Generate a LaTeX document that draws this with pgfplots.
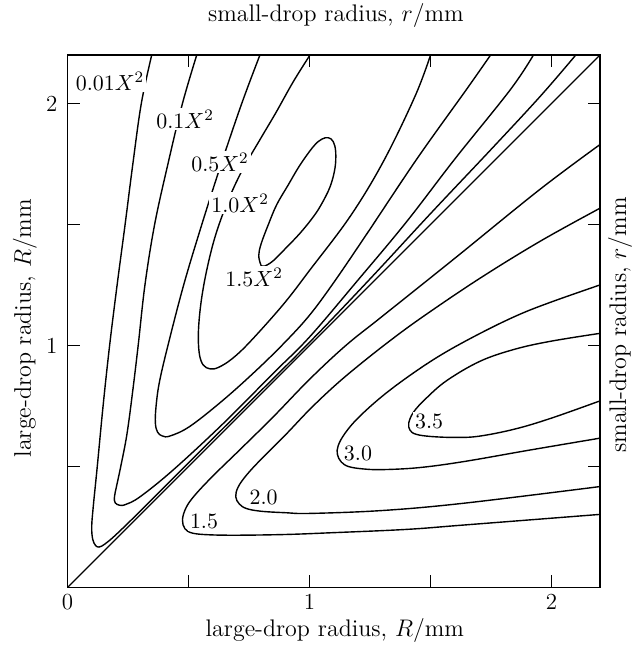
\documentclass[border=0pt]{standalone}
\usepackage{pgfplots}
\pgfplotsset{compat=1.18}
\pgfplotsset{contour/.style={black, solid, line width=0.7pt, smooth, tension=0.6, no markers}}
\begin{document}
\begin{tikzpicture}
\begin{axis}[
  name=ax,
  scale only axis, width=266.25pt, height=266.25pt,
  xmin=0, xmax=2.2, ymin=0, ymax=2.2,
  xtick={0,0.5,1,1.5,2}, xticklabels={0,,1,,2},
  ytick={0.5,1,1.5,2}, yticklabels={,1,,2},
  tick align=inside, major tick length=6pt,
  axis line style={line width=0.65pt},
  every tick/.style={black, line width=0.65pt},
  tick label style={font=\fontsize{11.5}{13}\selectfont},
  yticklabel style={xshift=-1.5pt},
  label style={font=\fontsize{12}{14}\selectfont},
  xlabel={large-drop radius, $R$/mm},
  ylabel={large-drop radius, $R$/mm},
  xlabel style={at={(axis description cs:0.502,-0.08)}, anchor=center},
  ylabel style={at={(axis description cs:-0.08,0.487)}, anchor=center},
  clip mode=individual,
]
% diagonal R = r
\addplot[black, line width=0.7pt] coordinates {(0,0) (2.2,2.2)};

% upper-left family (multiples of X^2)
\addplot[contour] coordinates {(0.348,2.2) (0.305,2.0) (0.27,1.75) (0.238,1.5) (0.205,1.25)
  (0.174,1.0) (0.147,0.75) (0.123,0.5) (0.106,0.33) (0.100,0.25) (0.104,0.2) (0.115,0.175)
  (0.13,0.167) (0.155,0.18) (0.2,0.218) (0.3,0.315) (0.5,0.515) (0.75,0.764) (1.0,1.013)
  (1.25,1.275) (1.5,1.545) (1.75,1.81) (1.952,2.028) (2.10,2.2)};
\addplot[contour] coordinates {(0.534,2.2) (0.475,2.0) (0.415,1.75) (0.36,1.5) (0.32,1.25)
  (0.292,1.0) (0.268,0.8) (0.245,0.63) (0.22,0.5) (0.203,0.42) (0.194,0.375) (0.197,0.35)
  (0.215,0.34) (0.24,0.343) (0.30,0.375) (0.437,0.486) (0.644,0.678) (0.85,0.885)
  (1.0,1.035) (1.2,1.27) (1.4,1.51) (1.6,1.77) (1.829,2.056) (1.925,2.2)};
\addplot[contour] coordinates {(0.795,2.2) (0.72,2.0) (0.635,1.75) (0.555,1.5) (0.48,1.25)
  (0.415,1.0) (0.38,0.85) (0.366,0.75) (0.363,0.68) (0.372,0.642) (0.392,0.626)
  (0.424,0.626) (0.506,0.666) (0.644,0.775) (0.782,0.899) (0.9,1.015) (1.0,1.125)
  (1.1,1.26) (1.236,1.46) (1.443,1.77) (1.65,2.06) (1.748,2.2)};
\addplot[contour] coordinates {(1.002,2.2) (0.933,2.09) (0.86,1.96) (0.795,1.85) (0.72,1.72)
  (0.66,1.59) (0.61,1.45) (0.575,1.31) (0.552,1.18) (0.541,1.06) (0.544,0.97) (0.56,0.92)
  (0.59,0.903) (0.625,0.91) (0.68,0.945) (0.754,1.015) (0.892,1.17) (1.0,1.31)
  (1.167,1.532) (1.305,1.76) (1.436,2.03) (1.5,2.2)};
\addplot[contour] coordinates {(0.80,1.33) (0.79,1.37) (0.80,1.42) (0.83,1.50) (0.864,1.581)
  (0.91,1.66) (0.961,1.746) (1.016,1.822) (1.05,1.852) (1.078,1.858) (1.098,1.842)
  (1.108,1.80) (1.105,1.732) (1.085,1.656) (1.05,1.585) (1.016,1.532) (0.961,1.464)
  (0.90,1.40) (0.85,1.35) (0.815,1.328) (0.80,1.33)};

% lower-right family
\addplot[contour] coordinates {(2.2,1.83) (1.952,1.645) (1.6,1.36) (1.3,1.12) (1.15,1.0)
  (1.0,0.86) (0.85,0.705) (0.713,0.57) (0.6,0.46) (0.525,0.38) (0.49,0.33)
  (0.475,0.28) (0.485,0.243) (0.515,0.225) (0.58,0.218) (0.7,0.216) (0.9,0.219)
  (1.085,0.226) (1.4,0.24) (1.636,0.258) (2.2,0.302)};
\addplot[contour] coordinates {(2.2,1.567) (1.952,1.43) (1.7,1.275) (1.47,1.12) (1.333,1.02)
  (1.2,0.915) (1.1,0.83) (1.0,0.735) (0.9,0.63) (0.8,0.53) (0.74,0.465) (0.705,0.415)
  (0.695,0.375) (0.71,0.345) (0.74,0.326) (0.8,0.315) (0.9,0.309) (1.002,0.306)
  (1.3,0.318) (1.636,0.348) (2.2,0.417)};
\addplot[contour] coordinates {(2.2,1.25) (2.0,1.18) (1.86,1.125) (1.705,1.05) (1.55,0.965)
  (1.42,0.88) (1.3,0.79) (1.2,0.70) (1.145,0.635) (1.118,0.585) (1.115,0.55) (1.13,0.52)
  (1.16,0.5) (1.22,0.49) (1.3,0.487) (1.45,0.495) (1.636,0.52) (1.911,0.568) (2.2,0.617)};
\addplot[contour] coordinates {(2.2,1.05) (2.0,1.018) (1.85,0.985) (1.705,0.935)
  (1.567,0.855) (1.48,0.78) (1.43,0.725) (1.41,0.68) (1.415,0.65) (1.44,0.633)
  (1.5,0.624) (1.6,0.62) (1.7,0.625) (1.85,0.655) (2.0,0.70) (2.2,0.771)};

% contour labels
\begin{scope}[every node/.style={fill=white, inner sep=1pt, font=\fontsize{11}{13}\selectfont}]
\node at (axis cs:0.176,2.093) {$0.01X^2$};
\node at (axis cs:0.486,1.936) {$0.1X^2$};
\node at (axis cs:0.63,1.758) {$0.5X^2$};
\node at (axis cs:0.713,1.589) {$1.0X^2$};
\node at (axis cs:0.771,1.283) {$1.5X^2$};
\node at (axis cs:0.564,0.271) {$1.5$};
\node at (axis cs:0.81,0.372) {$2.0$};
\node at (axis cs:1.20,0.554) {$3.0$};
\node at (axis cs:1.494,0.686) {$3.5$};
\end{scope}

\node[font=\fontsize{12}{14}\selectfont] at (axis description cs:0.504,1.075)
  {small-drop radius, $r$/mm};
\node[font=\fontsize{12}{14}\selectfont, rotate=90] at (axis description cs:1.0376,0.493)
  {small-drop radius, $r$/mm};
\end{axis}
\pgfresetboundingbox
\path (ax.south west) +(-33.75pt,-31.75pt) (ax.north east) +(18.5pt,27.5pt);
\end{tikzpicture}
\end{document}
